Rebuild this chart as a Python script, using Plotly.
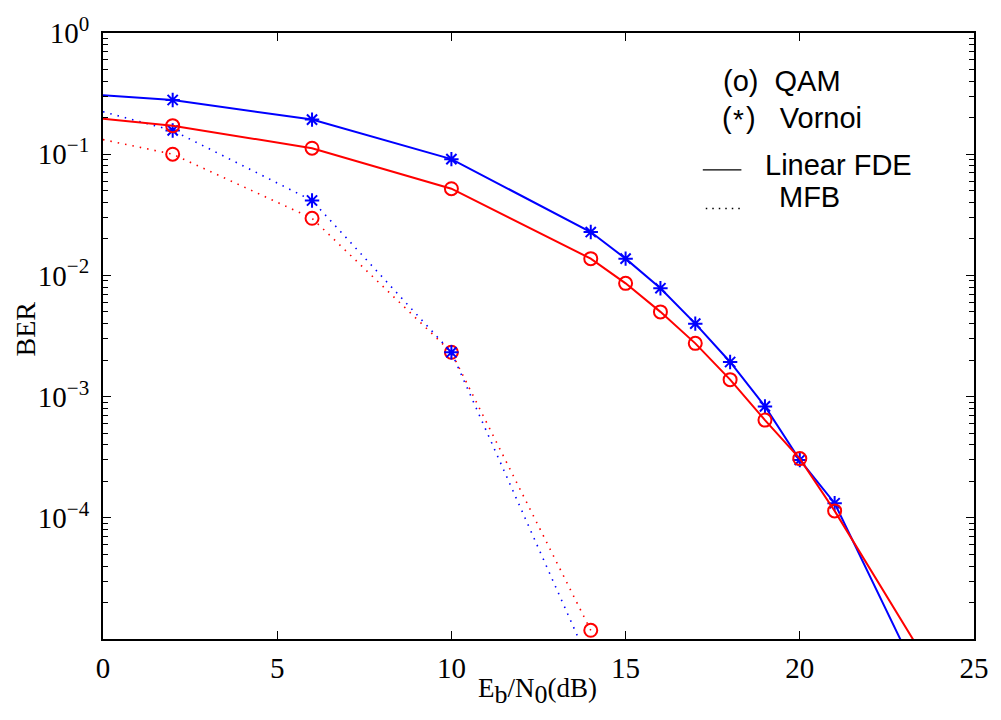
import plotly.graph_objects as go

# ---- data ----
snr_fde = [0, 2, 6, 10, 14, 15, 16, 17, 18, 19, 20, 21]
ber_vornoi_fde = [0.307, 0.28, 0.193, 0.091, 0.0228, 0.01375, 0.00784, 0.0040, 0.00193, 0.00083, 3.0e-4, 1.32e-4]
ber_qam_fde = [0.196, 0.172, 0.112, 0.0519, 0.01375, 0.0086, 0.0050, 0.00275, 0.00138, 6.4e-4, 3.08e-4, 1.14e-4]
# curve continuation below the visible range (clipped by the axes)
snr_vornoi_fde_tail = [23]
ber_vornoi_fde_tail = [8.5e-6]
snr_qam_fde_tail = [24]
ber_qam_fde_tail = [4.4e-6]

snr_mfb = [0, 2, 6, 10, 14]
ber_vornoi_mfb = [0.224, 0.157, 0.0415, 0.00232, 6.0e-6]
ber_qam_mfb = [0.132, 0.100, 0.0296, 0.00232, 1.18e-5]

x_ticks = [0, 5, 10, 15, 20, 25]
y_ticks = [1, 0.1, 0.01, 1e-3, 1e-4]
y_exponents = ["0", "\u22121", "\u22122", "\u22123", "\u22124"]

BLUE = "#0000ff"
RED = "#ff0000"
DOT = "1.5px,6px"

fig = go.Figure()

def add_curve(x, y, color, dash, marker_symbol, marker_x, marker_y):
    fig.add_trace(go.Scatter(x=x, y=y, mode="lines",
                             line=dict(color=color, width=2 if dash == "solid" else 1.6, dash=dash),
                             showlegend=False, hoverinfo="skip"))
    fig.add_trace(go.Scatter(x=marker_x, y=marker_y, mode="markers",
                             marker=dict(symbol=marker_symbol, size=13 if "circle" in marker_symbol else 12,
                                         color=color, line=dict(color=color, width=2)),
                             showlegend=False))

# MFB (dotted)
add_curve(snr_mfb, ber_qam_mfb, RED, DOT, "circle-open", snr_mfb[1:], ber_qam_mfb[1:])
add_curve(snr_mfb, ber_vornoi_mfb, BLUE, DOT, "asterisk-open", snr_mfb[1:], ber_vornoi_mfb[1:])
# Linear FDE (solid)
add_curve(snr_fde + snr_vornoi_fde_tail, ber_vornoi_fde + ber_vornoi_fde_tail, BLUE, "solid",
          "asterisk-open", snr_fde[1:], ber_vornoi_fde[1:])
add_curve(snr_fde + snr_qam_fde_tail, ber_qam_fde + ber_qam_fde_tail, RED, "solid",
          "circle-open", snr_fde[1:], ber_qam_fde[1:])

L, R, T, B = 103, 18, 24, 81
W, H = 1001, 720
PW, PH = W - L - R, H - T - B

def px(xp):
    return (xp - L) / PW

def py(yp):
    return (H - B - yp) / PH

serif = "Liberation Serif, Times New Roman, serif"
sans = "Liberation Sans, Arial, sans-serif"

minor_vals = [m * 10 ** e for e in range(-5, 0) for m in range(2, 10)]
y_ticktext = ["10<sup><span style='font-size:21px'>%s</span></sup>" % e for e in y_exponents]

fig.update_layout(
    width=W, height=H,
    margin=dict(l=L, r=R, t=T, b=B),
    paper_bgcolor="white", plot_bgcolor="white",
    xaxis=dict(range=[0, 25], tickvals=x_ticks, ticks="inside", ticklen=8, tickwidth=1,
               tickcolor="black", showline=True, linecolor="black", linewidth=2, mirror="ticks",
               showgrid=False, zeroline=False,
               tickfont=dict(family=serif, size=29, color="black"), ticklabelstandoff=2),
    yaxis=dict(type="log", range=[-5, 0], tickvals=y_ticks, ticktext=y_ticktext,
               ticks="inside", ticklen=8, tickwidth=1, tickcolor="black",
               showline=True, linecolor="black", linewidth=2, mirror="ticks",
               showgrid=False, zeroline=False,
               tickfont=dict(family=serif, size=29, color="black"), ticklabelstandoff=6,
               minor=dict(tickvals=minor_vals, ticks="inside", ticklen=5, tickwidth=1,
                          tickcolor="black", showgrid=False)),
)

ann = []
ann.append(dict(text="E<sub><span style='font-size:26px'>b</span></sub>/N<sub><span style='font-size:26px'>0</span></sub>(dB)",
                x=px(542), y=py(692), xref="paper", yref="paper",
                showarrow=False, font=dict(family=serif, size=27, color="black"),
                xanchor="center", yanchor="middle"))
ann.append(dict(text="BER", x=px(25), y=py(324), xref="paper", yref="paper", textangle=-90,
                showarrow=False, font=dict(family=serif, size=28, color="black"),
                xanchor="center", yanchor="middle"))
legend_font = dict(family=sans, size=29, color="black")

def legend_text(text, xp, yp):
    ann.append(dict(text=text, x=px(xp), y=py(yp), xref="paper", yref="paper", showarrow=False,
                    font=legend_font, xanchor="left", yanchor="middle", borderpad=0))

legend_text("(o)  QAM", 728, 73)
legend_text("(", 727, 110)
legend_text(")   Vornoi", 752, 110)
ann.append(dict(text="*", x=px(745.5), y=py(112), xref="paper", yref="paper", showarrow=False,
                font=dict(family=sans, size=28, color="black"), xanchor="center", yanchor="middle",
                borderpad=0))
legend_text("Linear FDE", 771, 158)
legend_text("MFB", 785, 190)
fig.update_layout(annotations=ann)

fig.add_shape(type="line", xref="paper", yref="paper", x0=px(709), x1=px(748), y0=py(163), y1=py(163),
              line=dict(color="black", width=1.2))
fig.add_shape(type="line", xref="paper", yref="paper", x0=px(712), x1=px(751), y0=py(202), y1=py(202),
              line=dict(color="black", width=1.5, dash="1.5px,5px"))

fig.write_html("out.html")
